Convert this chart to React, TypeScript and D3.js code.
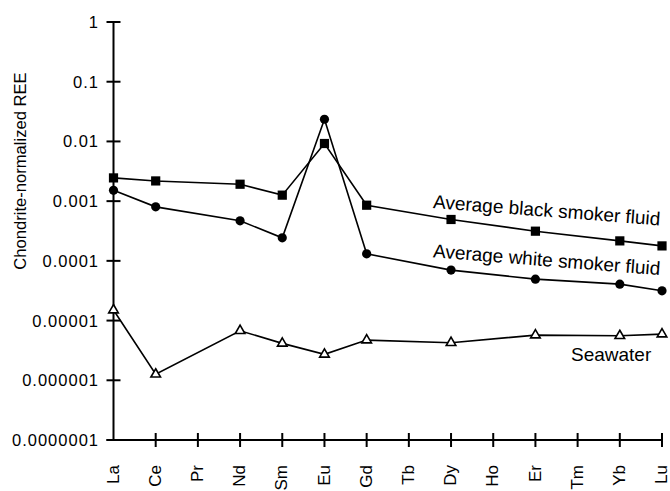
import React from "react";
import * as d3 from "d3";

// REE elements along the x axis (Pm omitted)
const elements = ["La", "Ce", "Pr", "Nd", "Sm", "Eu", "Gd", "Tb", "Dy", "Ho", "Er", "Tm", "Yb", "Lu"];

// elements that have measured values
const measured = ["La", "Ce", "Nd", "Sm", "Eu", "Gd", "Dy", "Er", "Yb", "Lu"];

// chondrite-normalized values
const blackSmoker = [0.00245, 0.00218, 0.00192, 0.00126, 0.00923, 0.000855, 0.000493, 0.000314, 0.000216, 0.000178];
const whiteSmoker = [0.00152, 0.000802, 0.000468, 0.000243, 0.0235, 0.000131, 0.00007, 0.0000494, 0.0000407, 0.0000315];
const seawater = [0.000015, 0.00000126, 0.00000675, 0.00000415, 0.00000272, 0.00000471, 0.00000425, 0.00000571, 0.00000556, 0.00000594];

const yTicks = [1, 0.1, 0.01, 0.001, 0.0001, 0.00001, 0.000001, 0.0000001];
const yTickLabels = ["1", "0.1", "0.01", "0.001", "0.0001", "0.00001", "0.000001", "0.0000001"];

const font = "'Liberation Sans', Arial, Helvetica, sans-serif";

const App = () => {
  const width = 670;
  const height = 491;

  const x = d3.scalePoint<string>().domain(elements).range([113.5, 662]);
  const y = d3.scaleLog().domain([1e-7, 1]).range([440, 22]);

  const toPoints = (vals: number[]) => measured.map((el, i) => [x(el) as number, y(vals[i])] as [number, number]);

  const line = d3.line<[number, number]>();

  const blackPts = toPoints(blackSmoker);
  const whitePts = toPoints(whiteSmoker);
  const seaPts = toPoints(seawater);

  const tri = d3.symbol().type(d3.symbolTriangle).size(40)() as string;

  const y0 = y(1e-7);
  const xLeft = x("La") as number;
  const xRight = x("Lu") as number;

  return (
    <svg
      width={width}
      height={height}
      style={{ position: "absolute", left: 0, top: 0, background: "#fff" }}
      fontFamily={font}
    >
      {/* y axis */}
      <line x1={xLeft} x2={xLeft} y1={y(1)} y2={y0} stroke="#000" strokeWidth={2} />
      {yTicks.map((t, i) => (
        <g key={i}>
          <line x1={xLeft - 7} x2={xLeft + 7} y1={y(t)} y2={y(t)} stroke="#000" strokeWidth={2} />
          <text
            x={99}
            y={y(t)}
            dy="0.36em"
            textAnchor="end"
            fontSize={16.5}
            letterSpacing={1}
            fill="#000"
          >
            {yTickLabels[i]}
          </text>
        </g>
      ))}

      {/* x axis */}
      <line x1={xLeft - 7} x2={xRight} y1={y0} y2={y0} stroke="#000" strokeWidth={2} />
      {elements.map((el) =>
        el === "La" ? null : (
          <line key={el} x1={x(el)} x2={x(el)} y1={y0 - 7} y2={y0 + 7} stroke="#000" strokeWidth={2} />
        )
      )}
      {elements.map((el) => (
        <text
          key={el}
          transform={`translate(${x(el)},465) rotate(-90)`}
          dy="0.3em"
          textAnchor="end"
          fontSize={17}
          fill="#000"
        >
          {el}
        </text>
      ))}

      <text
        transform={`translate(20,171) rotate(-90)`}
        dy="0.36em"
        textAnchor="middle"
        fontSize={16.6}
        fill="#000"
      >
        Chondrite-normalized REE
      </text>

      {/* series lines */}
      <path d={line(blackPts) as string} fill="none" stroke="#000" strokeWidth={1.6} />
      <path d={line(whitePts) as string} fill="none" stroke="#000" strokeWidth={1.6} />
      <path d={line(seaPts) as string} fill="none" stroke="#000" strokeWidth={1.6} />

      {/* markers */}
      {blackPts.map(([px, py], i) => (
        <rect key={"b" + i} x={px - 4.6} y={py - 4.6} width={9.2} height={9.2} fill="#000" />
      ))}
      {whitePts.map(([px, py], i) => (
        <circle key={"w" + i} cx={px} cy={py} r={4.6} fill="#000" />
      ))}
      {seaPts.map(([px, py], i) => (
        <path key={"s" + i} d={tri} transform={`translate(${px},${py})`} fill="#fff" stroke="#000" strokeWidth={1.6} />
      ))}

      {/* series labels */}
      <text transform="translate(432.7,208) rotate(4.4)" fontSize={19} fill="#000">
        Average black smoker fluid
      </text>
      <text transform="translate(432.7,257.3) rotate(4.5)" fontSize={19} fill="#000">
        Average white smoker fluid
      </text>
      <text x={571} y={361} fontSize={19} fill="#000">
        Seawater
      </text>
    </svg>
  );
};

export default App;
